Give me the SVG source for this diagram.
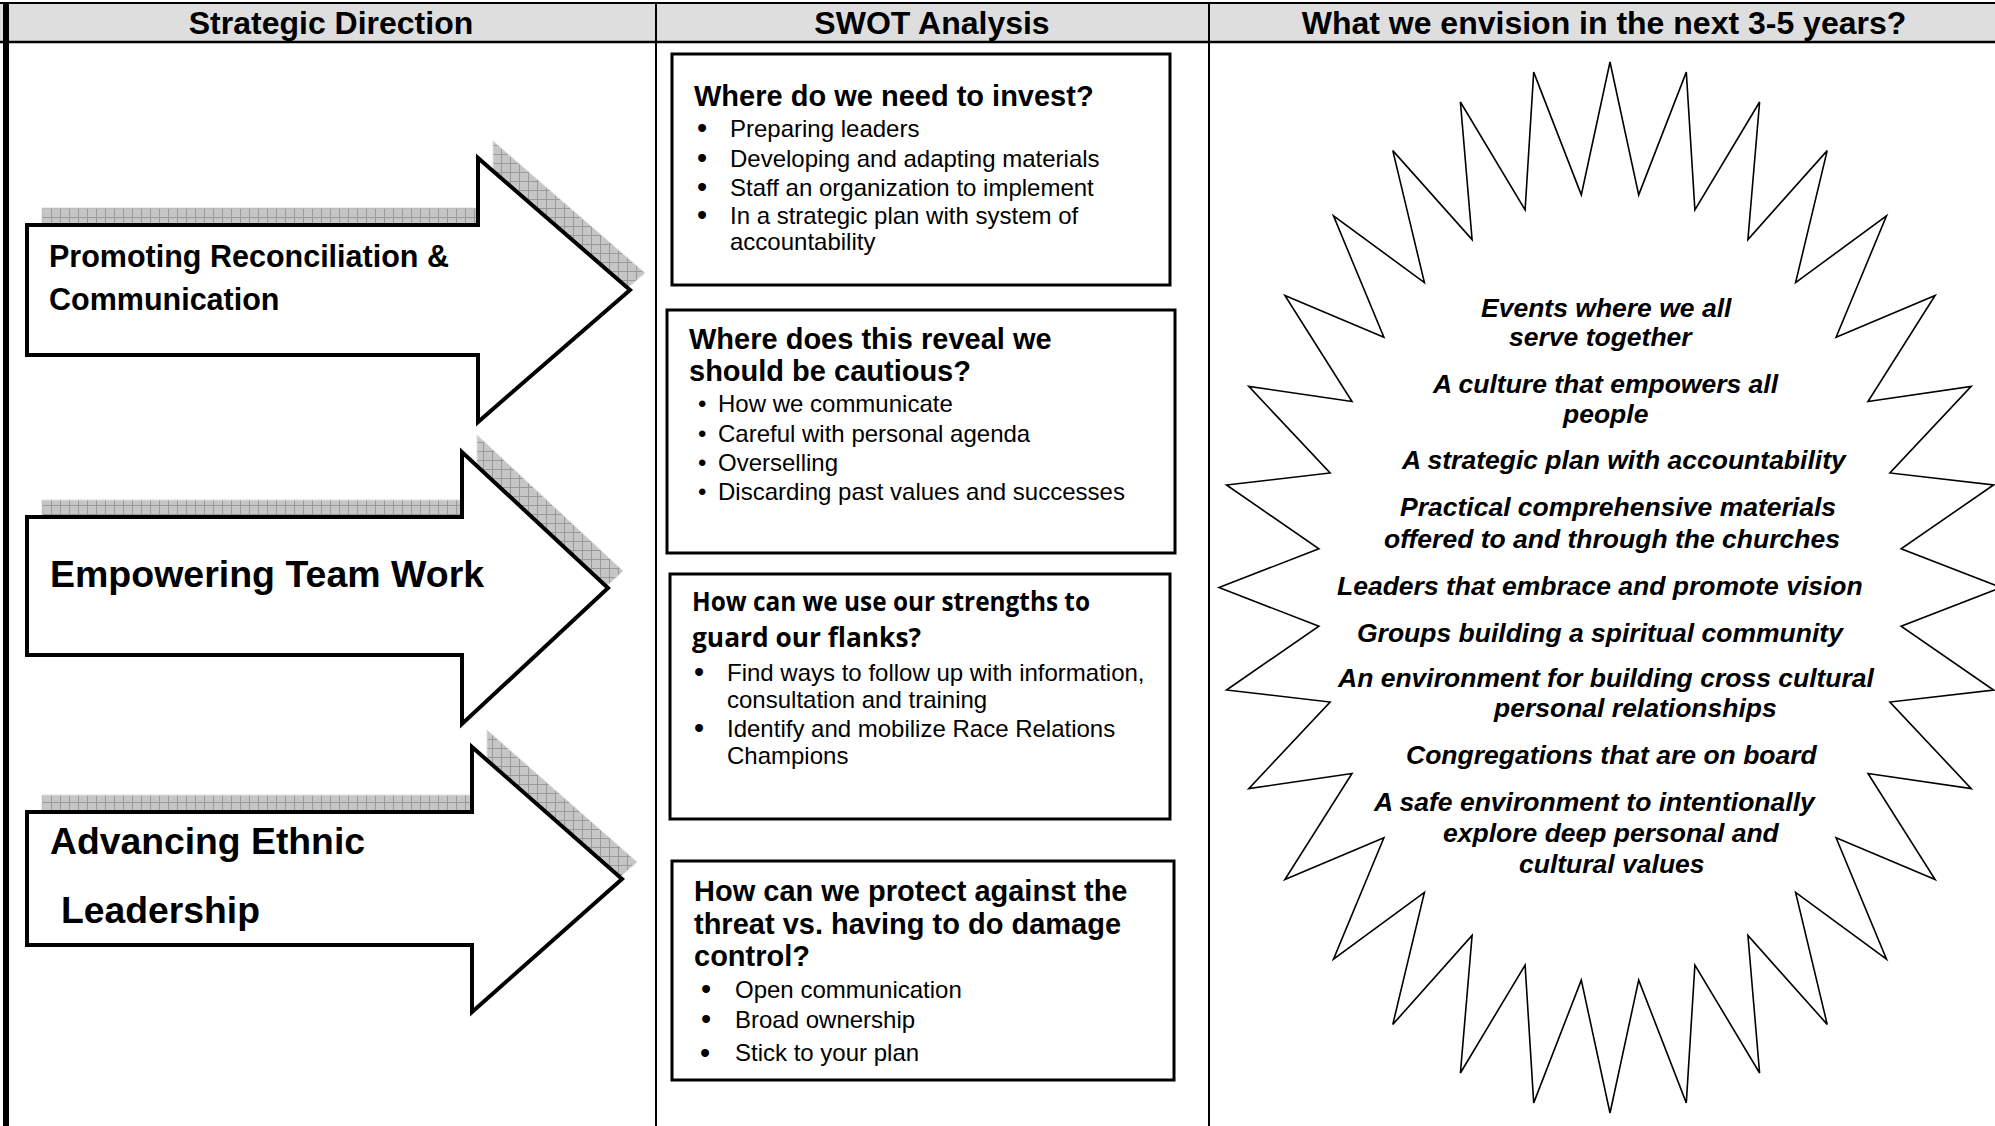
<svg xmlns="http://www.w3.org/2000/svg" width="1995" height="1126" viewBox="0 0 1995 1126">
<defs>
<pattern id="hatch" width="9" height="9" patternUnits="userSpaceOnUse">
<rect width="9" height="9" fill="#c6c6c6"/>
<path d="M0 0.5H9M0.5 0V9" stroke="#999" stroke-width="1"/>
</pattern>
<style>
.hdr{font-family:"Liberation Sans",Arial,sans-serif;font-weight:bold;font-size:32px;text-anchor:middle;fill:#000}
.arrow{fill:#fff;stroke:#000;stroke-width:4;stroke-linejoin:miter}
.shadow{fill:url(#hatch);stroke:#ddd;stroke-width:1}
.atxt{font-family:"Liberation Sans",Arial,sans-serif;font-weight:bold;fill:#000}
.box{fill:#fff;stroke:#000;stroke-width:3}
.ttl{font-family:"Liberation Sans",Arial,sans-serif;font-weight:bold;font-size:29px;fill:#000}
.ttl2{font-family:"Open Sans","Noto Sans",sans-serif;font-weight:700;font-size:26px;fill:#000}
.body{font-family:"Liberation Sans",Arial,sans-serif;font-size:24px;fill:#000}
.bul{font-family:"Liberation Sans",Arial,sans-serif;font-size:29px;fill:#000}
.star{fill:#fff;stroke:#000;stroke-width:1.6;stroke-linejoin:miter}
.vis{font-family:"Liberation Sans",Arial,sans-serif;font-weight:bold;font-style:italic;font-size:26.5px;fill:#000}
.grid{stroke:#000;fill:none}
</style>
</defs>
<rect width="1995" height="1126" fill="#fff"/>

<g id="table">
<rect x="0" y="4" width="1995" height="38" fill="#dedede"/>
<line class="grid" x1="0" y1="3" x2="1995" y2="3" stroke-width="2"/>
<line class="grid" x1="0" y1="42" x2="1995" y2="42" stroke-width="2.5"/>
<line class="grid" x1="6" y1="2" x2="6" y2="1126" stroke-width="6"/>
<line class="grid" x1="656" y1="3" x2="656" y2="1126" stroke-width="2"/>
<line class="grid" x1="1209" y1="3" x2="1209" y2="1126" stroke-width="2"/>
<text class="hdr" x="331" y="34">Strategic Direction</text>
<text class="hdr" x="932" y="34">SWOT Analysis</text>
<text class="hdr" x="1604" y="34">What we envision in the next 3-5 years?</text>
</g>

<g id="arrow-reconciliation">
<path class="shadow" transform="translate(15,-17)" d="M27,225 H478 V158 L630,290 L478,422 V355 H27 Z"/>
<path class="arrow" d="M27,225 H478 V158 L630,290 L478,422 V355 H27 Z"/>
<text class="atxt" font-size="30.5" x="49" y="267">Promoting Reconciliation &amp;</text>
<text class="atxt" font-size="30.5" x="49" y="310">Communication</text>
</g>

<g id="arrow-teamwork">
<path class="shadow" transform="translate(15,-17)" d="M27,517 H462 V452 L608,588 L462,724 V655 H27 Z"/>
<path class="arrow" d="M27,517 H462 V452 L608,588 L462,724 V655 H27 Z"/>
<text class="atxt" font-size="37.5" x="50" y="587">Empowering Team Work</text>
</g>

<g id="arrow-leadership">
<path class="shadow" transform="translate(15,-17)" d="M27,812 H472 V747 L622,879 L472,1012 V945 H27 Z"/>
<path class="arrow" d="M27,812 H472 V747 L622,879 L472,1012 V945 H27 Z"/>
<text class="atxt" font-size="37.3" x="50" y="854">Advancing Ethnic</text>
<text class="atxt" font-size="37.3" x="61" y="923">Leadership</text>
</g>

<g id="box-invest">
<rect class="box" x="672" y="54" width="498" height="231"/>
<text class="ttl" x="694" y="106">Where do we need to invest?</text>
<text class="bul" x="697" y="138">•</text><text class="body" x="730" y="137">Preparing leaders</text>
<text class="bul" x="697" y="167.5">•</text><text class="body" x="730" y="166.5">Developing and adapting materials</text>
<text class="bul" x="697" y="196.5">•</text><text class="body" x="730" y="195.5">Staff an organization to implement</text>
<text class="bul" x="697" y="225">•</text><text class="body" x="730" y="224">In a strategic plan with system of</text>
<text class="body" x="730" y="250">accountability</text>
</g>

<g id="box-cautious">
<rect class="box" x="667" y="310" width="508" height="243" stroke-width="3.5"/>
<text class="ttl" x="689" y="349">Where does this reveal we</text>
<text class="ttl" x="689" y="381">should be cautious?</text>
<text class="body" x="698" y="412">•</text><text class="body" x="718" y="412">How we communicate</text>
<text class="body" x="698" y="442">•</text><text class="body" x="718" y="442">Careful with personal agenda</text>
<text class="body" x="698" y="471">•</text><text class="body" x="718" y="471">Overselling</text>
<text class="body" x="698" y="500">•</text><text class="body" x="718" y="500">Discarding past values and successes</text>
</g>

<g id="box-strengths">
<rect class="box" x="670" y="574" width="500" height="245"/>
<text class="ttl2" x="692" y="611" textLength="398" lengthAdjust="spacingAndGlyphs">How can we use our strengths to</text>
<text class="ttl2" x="692" y="646.5" textLength="229" lengthAdjust="spacingAndGlyphs">guard our flanks?</text>
<text class="bul" x="694" y="682">•</text><text class="body" x="727" y="681">Find ways to follow up with information,</text>
<text class="body" x="727" y="708">consultation and training</text>
<text class="bul" x="694" y="738">•</text><text class="body" x="727" y="737">Identify and mobilize Race Relations</text>
<text class="body" x="727" y="764">Champions</text>
</g>

<g id="box-threat">
<rect class="box" x="672" y="861" width="502" height="219"/>
<text class="ttl" x="694" y="900.5">How can we protect against the</text>
<text class="ttl" x="694" y="934">threat vs. having to do damage</text>
<text class="ttl" x="694" y="966">control?</text>
<text class="bul" x="701" y="999">•</text><text class="body" x="735" y="998">Open communication</text>
<text class="bul" x="701" y="1029">•</text><text class="body" x="735" y="1028">Broad ownership</text>
<text class="bul" x="700" y="1063" font-size="33">•</text><text class="body" x="735" y="1061">Stick to your plan</text>
</g>

<g id="vision-star">
<path class="star" d="M1610,62 L1638.7,194.9 L1686.3,72.1 L1694.9,210 L1759.6,102 L1747.9,239.6 L1827.2,150.6 L1795.6,282.55 L1886.5,215.9 L1836.1,337.2 L1935.1,295.55 L1868,401.5 L1971.2,386.4 L1889.9,473 L1993.5,485 L1901.1,548.8 L2001,587.5 L1901.1,626.2 L1993.5,690 L1889.9,702 L1971.2,788.6 L1868,773.5 L1935.1,879.45 L1836.1,837.8 L1886.5,959.1 L1795.6,892.45 L1827.2,1024.4 L1747.9,935.4 L1759.6,1073 L1694.9,965 L1686.3,1102.9 L1638.7,980.1 L1610,1113 L1581.3,980.1 L1533.7,1102.9 L1525.1,965 L1460.4,1073 L1472.1,935.4 L1392.8,1024.4 L1424.4,892.45 L1333.5,959.1 L1383.9,837.8 L1284.9,879.45 L1352,773.5 L1248.8,788.6 L1330.1,702 L1226.5,690 L1318.9,626.2 L1219,587.5 L1318.9,548.8 L1226.5,485 L1330.1,473 L1248.8,386.4 L1352,401.5 L1284.9,295.55 L1383.9,337.2 L1333.5,215.9 L1424.4,282.55 L1392.8,150.6 L1472.1,239.6 L1460.4,102 L1525.1,210 L1533.7,72.1 L1581.3,194.9 Z"/>
<text class="vis" x="1481" y="317">Events where we all</text>
<text class="vis" x="1509" y="346">serve together</text>
<text class="vis" x="1433" y="393">A culture that empowers all</text>
<text class="vis" x="1563" y="423">people</text>
<text class="vis" x="1402" y="469">A strategic plan with accountability</text>
<text class="vis" x="1400" y="516">Practical comprehensive materials</text>
<text class="vis" x="1384" y="548">offered to and through the churches</text>
<text class="vis" x="1337" y="595">Leaders that embrace and promote vision</text>
<text class="vis" x="1357" y="642">Groups building a spiritual community</text>
<text class="vis" x="1338" y="687">An environment for building cross cultural</text>
<text class="vis" x="1494" y="717">personal relationships</text>
<text class="vis" x="1406" y="764">Congregations that are on board</text>
<text class="vis" x="1374" y="811">A safe environment to intentionally</text>
<text class="vis" x="1443" y="842">explore deep personal and</text>
<text class="vis" x="1519" y="873">cultural values</text>
</g>
</svg>
